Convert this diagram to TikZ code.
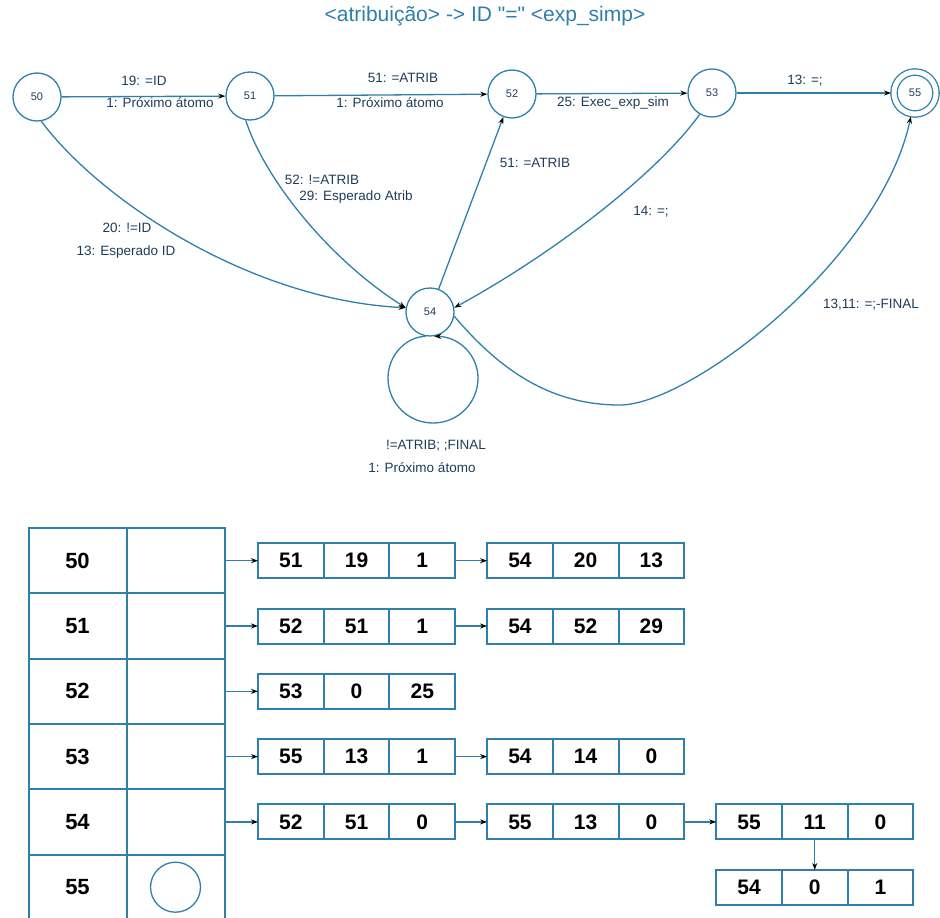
\documentclass[tikz,border=0pt]{standalone}
\usepackage{fontspec}
\setmainfont{Liberation Sans}[Ligatures=TeXOff]
\usetikzlibrary{arrows.meta,positioning}

\definecolor{linha}{RGB}{46,128,170}
\definecolor{texto}{RGB}{30,60,90}

\begin{document}
\begin{tikzpicture}[x=1pt, y=-1pt, >={Stealth[black,length=7pt,width=5pt]},
    estado/.style={circle, draw=linha, line width=1.3pt, minimum size=48pt, inner sep=0pt,
      text=texto, font=\fontsize{11}{13}\selectfont},
    final/.style={estado, double, double distance=5pt, minimum size=42pt, outer sep=3pt},
    rotulo/.style={text=texto, inner sep=0pt, font=\fontsize{13.5}{15}\selectfont},
    seta/.style={->, draw=linha, line width=1.3pt},
    celtab/.style={draw=linha, line width=2pt, minimum width=98pt, minimum height=65.3pt,
      inner sep=0pt, outer sep=0pt, font=\fontsize{22}{24}\selectfont\bfseries},
    celula/.style={draw=linha, line width=2pt, minimum width=65.7pt, minimum height=35pt,
      inner sep=0pt, outer sep=0pt, font=\fontsize{21}{23}\selectfont\bfseries}]
    \useasboundingbox (0,0) rectangle (940,918);

    % automato
    \node [text=linha, font=\fontsize{21}{24}\selectfont] (titulo) at (485,16) {<atribuição> -> ID "=" <exp\_simp>};
    \node [estado] (e50) at (37,97) {50};
    \node [estado] (e51) at (250,96) {51};
    \node [estado] (e52) at (512,94) {52};
    \node [estado] (e53) at (712,93) {53};
    \node [final] (e55) at (915,93) {55};
    \node [estado] (e54) at (430,312) {54};

    \draw [seta] (e50) -- (e51);
    \draw [seta] (e51) -- (e52);
    \draw [seta] (e52) -- (e53);
    \draw [seta] (e53) -- (e55);
    \draw [seta] (e54) -- (e52);
    \draw [seta] (e50.-80) .. controls (100,200) and (250,300) .. (e54.170);
    \draw [seta] (e51.-100) .. controls (265,180) and (330,260) .. (e54.170);
    \draw [seta] (e53.-120) .. controls (660,170) and (560,250) .. (e54.10);
    \draw [seta] (e54.-10) .. controls (500,370) and (550,405) .. (620,405)
        .. controls (690,405) and (880,260) .. (e55.-100);
    \draw [seta] (e54.-100) .. controls (405,337) and (388,356) .. (388,378)
        .. controls (388,403) and (408,423) .. (433,423)
        .. controls (458,423) and (478,403) .. (478,378)
        .. controls (478,356) and (460,337) .. (e54.-80);

    \node [rotulo] (r1a) at (144,81) {19: =ID};
    \node [rotulo] (r1b) at (160,103) {1: Próximo átomo};
    \node [rotulo] (r2a) at (403,78) {51: =ATRIB};
    \node [rotulo] (r2b) at (390,103) {1: Próximo átomo};
    \node [rotulo] (r3) at (613,103) {25: Exec\_exp\_sim};
    \node [rotulo] (r4) at (805,81) {13: =;};
    \node [rotulo] (r5a) at (127,228) {20: !=ID};
    \node [rotulo] (r5b) at (126,252) {13: Esperado ID};
    \node [rotulo] (r6a) at (322,180) {52: !=ATRIB};
    \node [rotulo] (r6b) at (356,197) {29: Esperado Atrib};
    \node [rotulo] (r7) at (535,163) {51: =ATRIB};
    \node [rotulo] (r8) at (651,212) {14: =;};
    \node [rotulo] (r9) at (871,305) {13,11: =;-FINAL};
    \node [rotulo] (r10a) at (436,446) {!=ATRIB; ;FINAL};
    \node [rotulo] (r10b) at (422,468) {1: Próximo átomo};

    % tabela de estados
    \node [celtab] (t50) at (77.5,560.7) {50};
    \node [celtab] (p50) at (175.5,560.7) {};
    \node [celtab] (t51) at (77.5,626) {51};
    \node [celtab] (p51) at (175.5,626) {};
    \node [celtab] (t52) at (77.5,691.3) {52};
    \node [celtab] (p52) at (175.5,691.3) {};
    \node [celtab] (t53) at (77.5,756.6) {53};
    \node [celtab] (p53) at (175.5,756.6) {};
    \node [celtab] (t54) at (77.5,821.9) {54};
    \node [celtab] (p54) at (175.5,821.9) {};
    \node [celtab] (t55) at (77.5,887.2) {55};
    \node [celtab] (p55) at (175.5,887.2) {};
    \node [circle, draw=linha, line width=1.3pt, minimum size=50pt] (vazio) at (p55) {};

    % listas de transicoes
    \node [celula, right=33.5pt of p50] (l50a1) {51};
    \node [celula, right=0pt of l50a1] (l50a2) {19};
    \node [celula, right=0pt of l50a2] (l50a3) {1};
    \node [celula, right=32pt of l50a3] (l50b1) {54};
    \node [celula, right=0pt of l50b1] (l50b2) {20};
    \node [celula, right=0pt of l50b2] (l50b3) {13};

    \node [celula, right=33.5pt of p51] (l51a1) {52};
    \node [celula, right=0pt of l51a1] (l51a2) {51};
    \node [celula, right=0pt of l51a2] (l51a3) {1};
    \node [celula, right=32pt of l51a3] (l51b1) {54};
    \node [celula, right=0pt of l51b1] (l51b2) {52};
    \node [celula, right=0pt of l51b2] (l51b3) {29};

    \node [celula, right=33.5pt of p52] (l52a1) {53};
    \node [celula, right=0pt of l52a1] (l52a2) {0};
    \node [celula, right=0pt of l52a2] (l52a3) {25};

    \node [celula, right=33.5pt of p53] (l53a1) {55};
    \node [celula, right=0pt of l53a1] (l53a2) {13};
    \node [celula, right=0pt of l53a2] (l53a3) {1};
    \node [celula, right=32pt of l53a3] (l53b1) {54};
    \node [celula, right=0pt of l53b1] (l53b2) {14};
    \node [celula, right=0pt of l53b2] (l53b3) {0};

    \node [celula, right=33.5pt of p54] (l54a1) {52};
    \node [celula, right=0pt of l54a1] (l54a2) {51};
    \node [celula, right=0pt of l54a2] (l54a3) {0};
    \node [celula, right=32pt of l54a3] (l54b1) {55};
    \node [celula, right=0pt of l54b1] (l54b2) {13};
    \node [celula, right=0pt of l54b2] (l54b3) {0};
    \node [celula, right=32pt of l54b3] (l54c1) {55};
    \node [celula, right=0pt of l54c1] (l54c2) {11};
    \node [celula, right=0pt of l54c2] (l54c3) {0};
    \node [celula, below=30.5pt of l54c2] (l54d2) {0};
    \node [celula, left=0pt of l54d2] (l54d1) {54};
    \node [celula, right=0pt of l54d2] (l54d3) {1};

    \draw [seta] (p50.east) -- (l50a1.west);
    \draw [seta] (l50a3.east) -- (l50b1.west);
    \draw [seta] (p51.east) -- (l51a1.west);
    \draw [seta] (l51a3.east) -- (l51b1.west);
    \draw [seta] (p52.east) -- (l52a1.west);
    \draw [seta] (p53.east) -- (l53a1.west);
    \draw [seta] (l53a3.east) -- (l53b1.west);
    \draw [seta] (p54.east) -- (l54a1.west);
    \draw [seta] (l54a3.east) -- (l54b1.west);
    \draw [seta] (l54b3.east) -- (l54c1.west);
    \draw [seta] (l54c2.south) -- (l54d2.north);
\end{tikzpicture}
\end{document}
